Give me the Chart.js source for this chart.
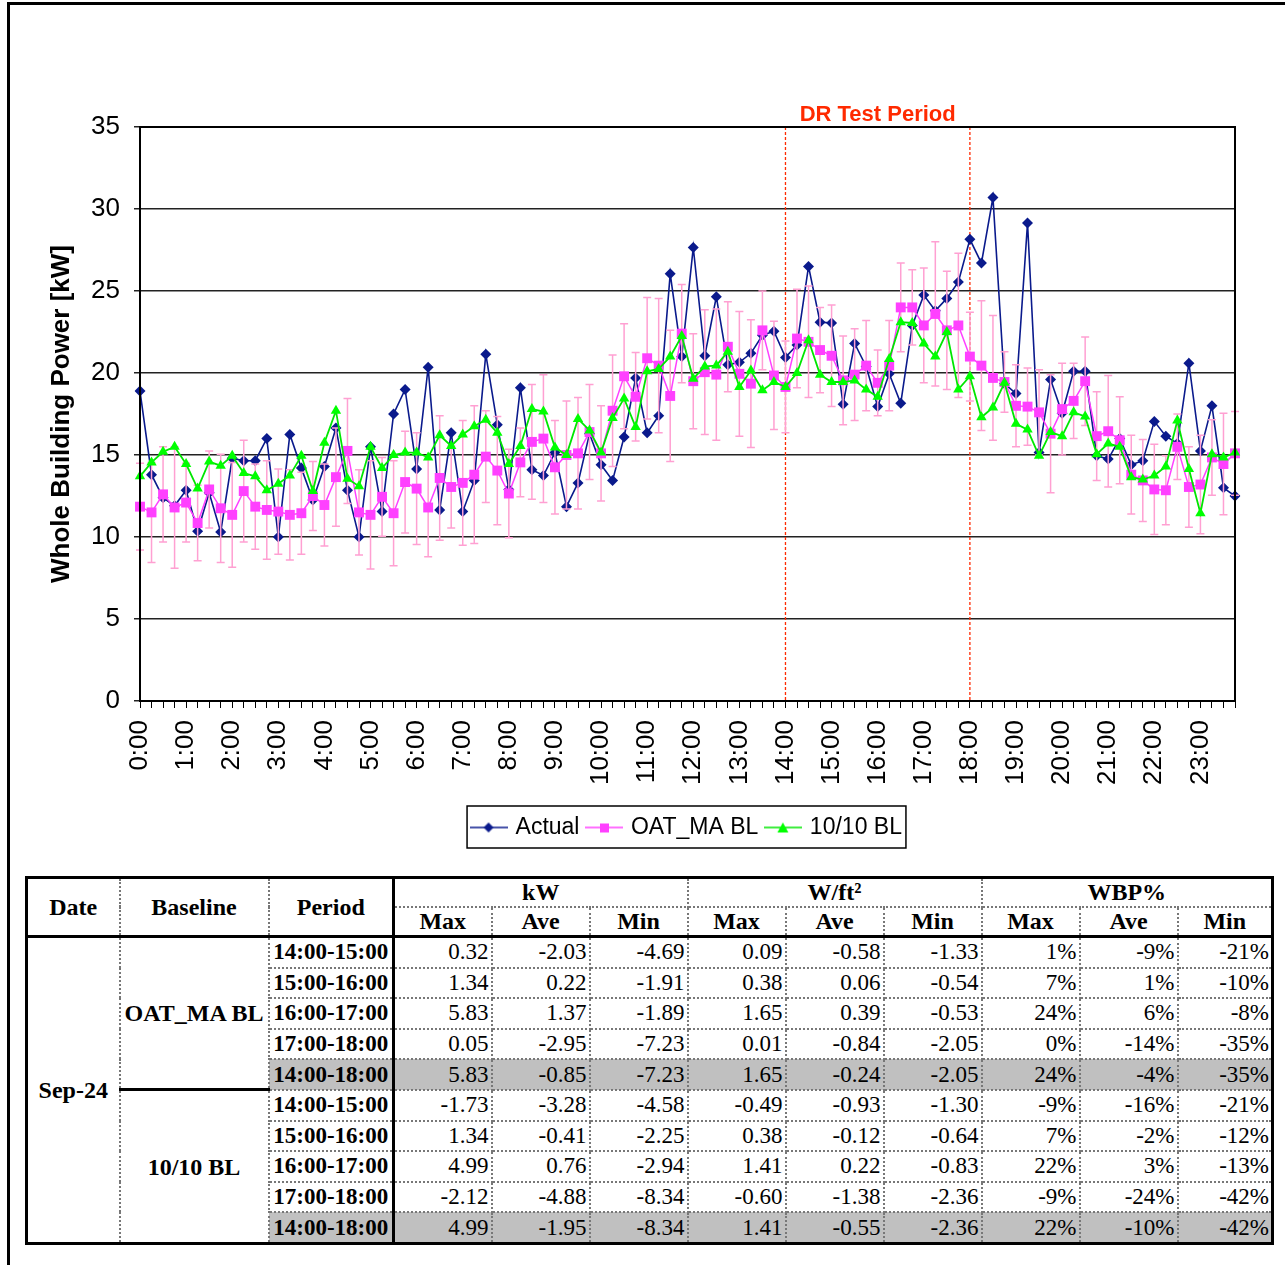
<!DOCTYPE html>
<html>
<head>
<meta charset="utf-8">
<script src="https://cdn.jsdelivr.net/npm/chart.js@4.4.0/dist/chart.umd.min.js"></script>
<style>
  body { margin: 0; background: #fff; width: 1285px; height: 1265px; position: relative; overflow: hidden; }
  #frame { position: absolute; left: 7px; top: 2px; width: 1300px; height: 1300px; border-top: 3px solid #000; border-left: 3px solid #000; }
  #chartBox { position: absolute; left: 0; top: 0; }
  #stats { position: absolute; left: 25px; top: 876px; width: 1246px; border-collapse: collapse; table-layout: fixed;
    font-family: 'Liberation Serif', 'Times New Roman', serif; font-size: 23px; color: #000; border: 3px solid #000; }
  #stats td, #stats th { border: 2px dotted #777; padding: 0 2px; height: 28.6px; line-height: 26px; }
  #stats th { font-weight: bold; text-align: center; font-size: 24px; height: 27px; line-height: 25px; }
  #stats td { text-align: right; }
  #stats td.period { font-weight: bold; text-align: center; border-right: 3px solid #000; }
  #stats td.base, #stats td.date { font-weight: bold; text-align: center; font-size: 24px; }
  #stats td.base.first { border-bottom: 3px solid #000; }
  #stats tr.head2 th { border-bottom: 3px solid #000; }
  #stats th.period { border-right: 3px solid #000; border-bottom: 3px solid #000; }
  #stats th.lead { border-bottom: 3px solid #000; }
  #stats tr.total td { background: #c0c0c0; }
</style>
</head>
<body>
<div id="frame"></div>
<div id="chartBox"><canvas id="powerChart" width="1285" height="860"></canvas></div>
<table id="stats"></table>
<script>
// 15 minute intervals, 0:00 .. 23:45
const timeLabels = [];
for (let h = 0; h < 24; h++) {
  for (let m = 0; m < 60; m += 15) {
    timeLabels.push(`${h}:${m === 0 ? '00' : m}`);
  }
}

const actualKw = [
  18.9, 13.8, 12.4, 11.9, 12.85, 10.35, 12.7, 10.3, 14.8, 14.65, 14.65, 16.0,
  10.0, 16.25, 14.2, 12.25, 14.3, 16.65, 12.85, 10.0, 15.5, 11.55, 17.5, 19.0,
  14.15, 20.35, 11.65, 16.35, 11.55, 13.45, 21.15, 16.85, 12.9, 19.1, 14.1, 13.75,
  15.15, 11.85, 13.3, 16.3, 14.4, 13.45, 16.1, 19.7, 16.35, 17.4, 26.05, 21.0,
  27.65, 21.05, 24.65, 20.5, 20.65, 21.2, 22.3, 22.55, 20.95, 21.7, 26.5, 23.1,
  23.05, 18.1, 21.8, 20.4, 17.95, 19.95, 18.15, 22.9, 24.75, 23.8, 24.55, 25.55,
  28.15, 26.7, 30.7, 19.35, 18.75, 29.15, 15.15, 19.6, 17.55, 20.1, 20.1, 14.95,
  14.75, 16.0, 14.4, 14.65, 17.05, 16.15, 15.7, 20.6, 15.25, 18.0, 13.0, 12.5,
];

const oatMaBl = [
  11.85, 11.5, 12.6, 11.8, 12.1, 10.85, 12.9, 11.75, 11.35, 12.8, 11.85, 11.65,
  11.55, 11.35, 11.45, 12.5, 11.95, 13.65, 15.25, 11.5, 11.35, 12.45, 11.45, 13.35,
  12.95, 11.8, 13.6, 13.05, 13.3, 13.8, 14.9, 14.05, 12.65, 14.55, 15.8, 16.0,
  14.25, 15.0, 15.1, 16.4, 15.1, 17.7, 19.8, 18.55, 20.9, 20.45, 18.6, 22.4,
  19.5, 20.05, 19.9, 21.6, 19.95, 19.35, 22.6, 19.85, 19.15, 22.1, 21.9, 21.4,
  21.05, 19.55, 19.9, 20.45, 19.4, 20.45, 24.0, 24.0, 22.9, 23.6, 22.6, 22.9,
  21.0, 20.45, 19.7, 19.45, 18.0, 17.95, 17.6, 16.3, 17.8, 18.3, 19.5, 16.15,
  16.45, 15.9, 13.8, 13.45, 12.9, 12.85, 15.5, 13.05, 13.2, 14.85, 14.45, 15.1,
];

// half length of the error bars on the OAT_MA baseline
const oatMaError = [
  2.65, 3.05, 2.9, 3.7, 2.4, 2.3, 2.35, 3.3, 3.2, 3.1, 2.6, 3.0,
  2.6, 2.75, 2.5, 2.1, 2.5, 3.0, 3.2, 2.6, 3.3, 2.4, 3.2, 3.1,
  3.4, 3.0, 3.8, 2.5, 3.8, 4.2, 2.8, 3.3, 2.7, 2.1, 3.5, 3.9,
  2.85, 3.3, 3.4, 2.9, 2.9, 3.4, 3.2, 2.7, 3.7, 4.1, 4.0, 3.0,
  2.9, 3.8, 4.0, 2.75, 3.8, 3.9, 2.4, 3.3, 2.8, 3.0, 3.4, 2.6,
  3.1, 2.7, 2.8, 2.75, 2.0, 2.75, 2.7, 2.3, 3.5, 4.4, 3.6, 4.4,
  2.7, 3.95, 3.8, 1.85, 2.5, 2.35, 2.6, 3.6, 2.8, 2.3, 2.7, 2.7,
  3.4, 2.65, 2.4, 2.5, 2.75, 2.1, 2.0, 2.45, 3.0, 2.3, 3.1, 2.55,
];

const tenTenBl = [
  13.7, 14.55, 15.2, 15.5, 14.45, 12.95, 14.6, 14.35, 14.95, 13.9, 13.7, 12.85,
  13.25, 13.75, 14.95, 12.8, 15.75, 17.7, 13.55, 13.1, 15.5, 14.2, 15.0, 15.15,
  15.15, 14.85, 16.2, 15.55, 16.25, 16.75, 17.15, 16.35, 14.45, 15.55, 17.8, 17.65,
  15.45, 15.0, 17.2, 16.5, 15.15, 17.25, 18.45, 16.7, 20.1, 20.25, 21.0, 22.25,
  19.65, 20.4, 20.45, 21.3, 19.15, 20.15, 18.95, 19.45, 19.15, 20.0, 22.0, 19.9,
  19.45, 19.45, 19.55, 19.0, 18.55, 20.85, 23.1, 23.05, 21.8, 21.0, 22.5, 19.0,
  19.8, 17.3, 17.9, 19.4, 16.9, 16.55, 14.95, 16.4, 16.15, 17.6, 17.35, 15.05,
  15.7, 15.5, 13.65, 13.5, 13.75, 14.3, 17.1, 14.15, 11.45, 15.05, 14.85, 15.15,
];

const drStart = '14:00';
const drEnd = '18:00';

// table data
const tableDate = 'Sep-24';
const baselines = ['OAT_MA BL', '10/10 BL'];
const periods = ['14:00-15:00', '15:00-16:00', '16:00-17:00', '17:00-18:00', '14:00-18:00'];
const kwMax = ['0.32', '1.34', '5.83', '0.05', '5.83', '-1.73', '1.34', '4.99', '-2.12', '4.99'];
const kwAve = ['-2.03', '0.22', '1.37', '-2.95', '-0.85', '-3.28', '-0.41', '0.76', '-4.88', '-1.95'];
const kwMin = ['-4.69', '-1.91', '-1.89', '-7.23', '-7.23', '-4.58', '-2.25', '-2.94', '-8.34', '-8.34'];
const wftMax = ['0.09', '0.38', '1.65', '0.01', '1.65', '-0.49', '0.38', '1.41', '-0.60', '1.41'];
const wftAve = ['-0.58', '0.06', '0.39', '-0.84', '-0.24', '-0.93', '-0.12', '0.22', '-1.38', '-0.55'];
const wftMin = ['-1.33', '-0.54', '-0.53', '-2.05', '-2.05', '-1.30', '-0.64', '-0.83', '-2.36', '-2.36'];
const wbpMax = ['1%', '7%', '24%', '0%', '24%', '-9%', '7%', '22%', '-9%', '22%'];
const wbpAve = ['-9%', '1%', '6%', '-14%', '-4%', '-16%', '-2%', '3%', '-24%', '-10%'];
const wbpMin = ['-21%', '-10%', '-8%', '-35%', '-35%', '-21%', '-12%', '-13%', '-42%', '-42%'];

const sansFont = "'Liberation Sans', Arial, sans-serif";
const navy = '#0a1a8c';
const magenta = '#ff40ff';
const green = '#00e600';
const errorPink = '#ffa0d2';
const drRed = '#ff2a00';

function legendIcon(color, style, fill) {
  const c = document.createElement('canvas');
  c.width = 38;
  c.height = 16;
  const g = c.getContext('2d');
  g.strokeStyle = color;
  g.lineWidth = 1.5;
  g.beginPath();
  g.moveTo(0, 8);
  g.lineTo(38, 8);
  g.stroke();
  g.fillStyle = fill;
  g.beginPath();
  if (style === 'diamond') {
    g.moveTo(19, 3); g.lineTo(24, 8); g.lineTo(19, 13); g.lineTo(14, 8);
  } else if (style === 'square') {
    g.rect(15, 4, 9, 9);
  } else {
    g.moveTo(19, 3); g.lineTo(24.5, 13); g.lineTo(13.5, 13);
  }
  g.closePath();
  g.fill();
  return c;
}

const legendItems = [
  { text: 'Actual', icon: legendIcon(navy, 'diamond', navy), idx: 0 },
  { text: 'OAT_MA BL', icon: legendIcon(magenta, 'square', magenta), idx: 1 },
  { text: '10/10 BL', icon: legendIcon(green, 'triangle', '#00ff00'), idx: 2 },
];

const errorBars = {
  id: 'errorBars',
  beforeDatasetDraw(chart, args) {
    if (args.index !== 1) return;
    const { ctx } = chart;
    const x = chart.scales.x;
    const y = chart.scales.y;
    ctx.save();
    ctx.strokeStyle = errorPink;
    ctx.lineWidth = 1.5;
    oatMaBl.forEach((v, i) => {
      const px = x.getPixelForValue(i);
      const top = y.getPixelForValue(v + oatMaError[i]);
      const bot = y.getPixelForValue(v - oatMaError[i]);
      ctx.beginPath();
      ctx.moveTo(px, top); ctx.lineTo(px, bot);
      ctx.moveTo(px - 4, top); ctx.lineTo(px + 4, top);
      ctx.moveTo(px - 4, bot); ctx.lineTo(px + 4, bot);
      ctx.stroke();
    });
    ctx.restore();
  },
};

// centre the legend under the plot area instead of the whole canvas
const legendShift = {
  id: 'legendShift',
  afterLayout(chart) {
    const lg = chart.legend;
    const dx = (chart.chartArea.left + chart.chartArea.right) / 2 - (lg.left + lg.right) / 2;
    lg.left += dx;
    lg.right += dx;
  },
};

const drPeriod = {
  id: 'drPeriod',
  beforeDatasetsDraw(chart) {
    const { ctx, chartArea } = chart;
    const x1 = chart.scales.x.getPixelForValue(timeLabels.indexOf(drStart));
    const x2 = chart.scales.x.getPixelForValue(timeLabels.indexOf(drEnd));
    ctx.save();
    ctx.strokeStyle = drRed;
    ctx.lineWidth = 1.3;
    ctx.setLineDash([3, 2]);
    [x1, x2].forEach((px) => {
      ctx.beginPath();
      ctx.moveTo(px, chartArea.top);
      ctx.lineTo(px, chartArea.bottom);
      ctx.stroke();
    });
    ctx.restore();
  },
  afterDraw(chart) {
    const { ctx, chartArea } = chart;
    const x1 = chart.scales.x.getPixelForValue(timeLabels.indexOf(drStart));
    const x2 = chart.scales.x.getPixelForValue(timeLabels.indexOf(drEnd));
    ctx.save();
    ctx.fillStyle = drRed;
    ctx.font = `bold 22px ${sansFont}`;
    ctx.textAlign = 'center';
    ctx.textBaseline = 'alphabetic';
    ctx.fillText('DR Test Period', (x1 + x2) / 2, chartArea.top - 6);
    // plot frame
    ctx.strokeStyle = '#000';
    ctx.lineWidth = 2;
    ctx.setLineDash([]);
    ctx.strokeRect(chartArea.left, chartArea.top, chartArea.right - chartArea.left, chartArea.bottom - chartArea.top);
    // legend frame
    const boxes = chart.legend.legendHitBoxes;
    if (boxes && boxes.length) {
      const left = Math.min(...boxes.map((b) => b.left)) - 6;
      const right = Math.max(...boxes.map((b) => b.left + b.width)) + 4;
      const top = boxes[0].top - 10;
      const bottom = boxes[0].top + boxes[0].height + 9;
      ctx.lineWidth = 1.5;
      ctx.strokeStyle = '#000';
      ctx.strokeRect(left, top, right - left, bottom - top);
    }
    ctx.restore();
  },
};

const ctx = document.getElementById('powerChart').getContext('2d');

new Chart(ctx, {
  type: 'line',
  data: {
    labels: timeLabels,
    datasets: [{
      label: 'Actual',
      data: actualKw,
      borderColor: navy,
      backgroundColor: navy,
      borderWidth: 1.6,
      pointStyle: 'rectRot',
      pointRadius: 5.5,
      pointBorderWidth: 0,
      tension: 0,
      order: 2,
    }, {
      label: 'OAT_MA BL',
      data: oatMaBl,
      borderColor: magenta,
      backgroundColor: magenta,
      borderWidth: 1.5,
      pointStyle: 'rect',
      pointRadius: 7,
      pointBorderWidth: 0,
      tension: 0,
      order: 1,
    }, {
      label: '10/10 BL',
      data: tenTenBl,
      borderColor: green,
      backgroundColor: '#00ff00',
      borderWidth: 1.8,
      pointStyle: 'triangle',
      pointRadius: 6,
      pointBorderWidth: 0,
      tension: 0,
      order: 0,
    }],
  },
  options: {
    responsive: false,
    animation: false,
    devicePixelRatio: 1,
    layout: {
      padding: { top: 127, right: 50, left: 40, bottom: 11 },
    },
    plugins: {
      tooltip: { enabled: false },
      legend: {
        position: 'bottom',
        labels: {
          color: '#000',
          font: { family: sansFont, size: 23 },
          usePointStyle: true,
          pointStyleWidth: 31,
          padding: 9,
          generateLabels: () => legendItems.map((item) => ({
            text: item.text,
            pointStyle: item.icon,
            datasetIndex: item.idx,
            fillStyle: 'transparent',
            strokeStyle: 'transparent',
            lineWidth: 0,
            fontColor: '#000',
          })),
        },
      },
    },
    scales: {
      x: {
        type: 'category',
        offset: false,
        afterFit: (scale) => { scale.height = 106; },
        grid: {
          drawOnChartArea: false,
          drawTicks: true,
          tickLength: 7,
          color: '#000',
        },
        border: { color: '#000', width: 2 },
        ticks: {
          autoSkip: false,
          maxRotation: 90,
          minRotation: 90,
          padding: 12,
          color: '#000',
          font: { family: sansFont, size: 26 },
          callback: (value, index) => (index % 4 === 0 ? timeLabels[index] : ''),
        },
      },
      y: {
        min: 0,
        max: 35,
        afterFit: (scale) => { scale.width = 100; },
        grid: {
          color: '#222',
          lineWidth: 1.5,
          tickLength: 6,
        },
        border: { color: '#000', width: 2 },
        ticks: {
          stepSize: 5,
          padding: 14,
          color: '#000',
          font: { family: sansFont, size: 26 },
        },
        title: {
          display: true,
          text: 'Whole Building Power [kW]',
          color: '#000',
          font: { family: sansFont, size: 26, weight: 'bold' },
          padding: { top: 6, bottom: 0 },
        },
      },
    },
  },
  plugins: [errorBars, legendShift, drPeriod],
});

// stats table
function buildTable() {
  const table = document.getElementById('stats');
  const colWidths = [93, 149, 125, 98, 98, 98, 98, 98, 98, 98, 98, 95];
  let html = '<colgroup>' + colWidths.map((w) => `<col style="width:${w}px">`).join('') + '</colgroup>';
  html += '<tr class="head1"><th rowspan="2" class="lead">Date</th><th rowspan="2" class="lead">Baseline</th>'
    + '<th rowspan="2" class="period">Period</th><th colspan="3">kW</th><th colspan="3">W/ft²</th><th colspan="3">WBP%</th></tr>';
  html += '<tr class="head2">' + ['Max', 'Ave', 'Min', 'Max', 'Ave', 'Min', 'Max', 'Ave', 'Min'].map((t) => `<th>${t}</th>`).join('') + '</tr>';
  for (let r = 0; r < 10; r++) {
    const b = Math.floor(r / 5);
    const p = r % 5;
    html += `<tr class="${p === 4 ? 'total' : ''}">`;
    if (r === 0) html += `<td rowspan="10" class="date">${tableDate}</td>`;
    if (p === 0) html += `<td rowspan="5" class="base${b === 0 ? ' first' : ''}">${baselines[b]}</td>`;
    html += `<td class="period">${periods[p]}</td>`;
    [kwMax, kwAve, kwMin, wftMax, wftAve, wftMin, wbpMax, wbpAve, wbpMin].forEach((arr) => {
      html += `<td>${arr[r]}</td>`;
    });
    html += '</tr>';
  }
  table.innerHTML = html;
}
buildTable();
</script>
</body>
</html>
